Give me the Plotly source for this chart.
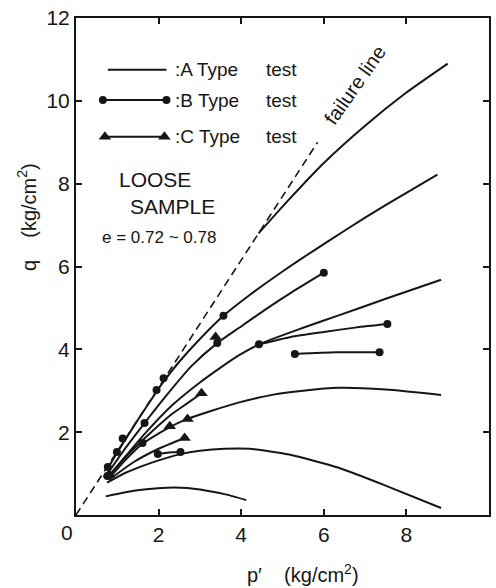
import plotly.graph_objects as go

# ---------------- data ----------------
FAIL_P = [0.0, 5.85]
FAIL_Q = [0.0, 9.0]

# A type tests (plain solid curves)
A1_P = [4.42, 5.16, 6.0, 7.0, 8.0, 9.0]
A1_Q = [6.8, 7.62, 8.5, 9.4, 10.2, 10.9]
A2_P = [0.78, 1.13, 1.5, 1.95, 2.12, 2.5, 3.0, 3.57, 4.19, 5.0, 6.12, 7.0, 8.0, 8.75]
A2_Q = [1.15, 1.72, 2.3, 2.98, 3.22, 3.7, 4.25, 4.81, 5.3, 5.88, 6.62, 7.18, 7.78, 8.22]
A3_P = [0.8, 1.2, 1.7, 2.34, 3.0, 3.5, 3.95, 4.43, 5.5, 6.36, 7.5, 8.84]
A3_Q = [0.95, 1.42, 2.0, 2.66, 3.2, 3.56, 3.86, 4.12, 4.52, 4.82, 5.22, 5.68]
A4_P = [0.8, 1.2, 1.61, 2.27, 2.7, 3.23, 3.95, 4.75, 5.5, 6.36, 7.5, 8.84]
A4_Q = [0.88, 1.33, 1.72, 2.12, 2.32, 2.5, 2.72, 2.9, 3.0, 3.07, 3.03, 2.9]
A5_P = [0.75, 1.2, 1.6, 2.0, 2.53, 3.0, 3.6, 4.2, 5.16, 6.36, 7.57, 8.84]
A5_Q = [0.78, 1.02, 1.18, 1.32, 1.47, 1.55, 1.6, 1.6, 1.46, 1.14, 0.68, 0.17]
A6_P = [0.72, 1.2, 1.7, 2.2, 2.7, 3.2, 3.7, 4.12]
A6_Q = [0.45, 0.55, 0.62, 0.66, 0.65, 0.58, 0.48, 0.36]

# B type tests (lines with dots)
BM_P = [0.78, 1.2, 1.66, 2.2, 2.8, 3.42, 3.95, 4.6, 5.23, 6.0]
BM_Q = [1.02, 1.62, 2.22, 2.9, 3.6, 4.15, 4.52, 4.97, 5.38, 5.85]
BS1_P = [4.43, 5.2, 6.0, 6.8, 7.54]
BS1_Q = [4.12, 4.3, 4.42, 4.53, 4.61]
BS2_P = [5.3, 6.3, 7.35]
BS2_Q = [3.89, 3.93, 3.93]
BS3_P = [1.98, 2.25, 2.53]
BS3_Q = [1.47, 1.51, 1.52]
DOT_P = [0.76, 0.77, 0.99, 1.13, 1.61, 1.66, 1.95, 2.12, 3.42, 3.57, 6.0]
DOT_Q = [0.94, 1.16, 1.52, 1.85, 1.74, 2.22, 3.02, 3.3, 4.15, 4.81, 5.85]

# C type tests (lines with triangles)
C1_P = [0.78, 1.3, 1.8, 2.3, 2.7, 3.04]
C1_Q = [0.92, 1.5, 1.98, 2.42, 2.7, 2.94]
C3_P = [0.8, 1.4, 2.0, 2.63]
C3_Q = [0.85, 1.28, 1.6, 1.86]
TRI_P = [3.04, 2.7, 2.63, 3.38, 2.27, 0.8]
TRI_Q = [2.94, 2.32, 1.86, 4.3, 2.14, 0.98]

X_TICKS = [2, 4, 6, 8, 10]
Y_TICKS = [2, 4, 6, 8, 10, 12]

# ---------------- styling ----------------
INK = "#161616"
TXT = "Liberation Sans, Arial, sans-serif"
NUM = "Liberation Sans Narrow, Liberation Sans, Arial, sans-serif"
LW = 2.0

fig = go.Figure()


def curve(p, q, width=LW, dash="solid"):
    fig.add_trace(go.Scatter(x=p, y=q, mode="lines",
                             line=dict(color=INK, width=width, dash=dash,
                                       shape="spline", smoothing=0.6),
                             hoverinfo="skip", showlegend=False))


def marks(p, q, symbol, size):
    fig.add_trace(go.Scatter(x=p, y=q, mode="markers",
                             marker=dict(symbol=symbol, size=size, color=INK,
                                         line=dict(width=0)),
                             hoverinfo="skip", showlegend=False))


curve(FAIL_P, FAIL_Q, width=1.6, dash="8px,5px")
for p, q in [(A1_P, A1_Q), (A2_P, A2_Q), (A3_P, A3_Q), (A4_P, A4_Q),
             (A5_P, A5_Q), (A6_P, A6_Q), (BM_P, BM_Q), (C1_P, C1_Q), (C3_P, C3_Q)]:
    curve(p, q)
for p, q in [(BS1_P, BS1_Q), (BS2_P, BS2_Q), (BS3_P, BS3_Q)]:
    curve(p, q)
    marks([p[0], p[-1]], [q[0], q[-1]], "circle", 8)
marks(DOT_P, DOT_Q, "circle", 8)
marks(TRI_P, TRI_Q, "triangle-up", 11)

# ---------------- legend drawn inside the plot ----------------
LEG_ROWS = [  # (label, q, p_start, p_end, symbol)
    (":A Type", 10.75, 0.77, 2.19, None),
    (":B Type", 10.02, 0.65, 2.19, "circle"),
    (":C Type", 9.13, 0.70, 2.14, "triangle-up"),
]
for label, yq, x0, x1, sym in LEG_ROWS:
    fig.add_trace(go.Scatter(x=[x0, x1], y=[yq, yq], mode="lines",
                             line=dict(color=INK, width=LW),
                             hoverinfo="skip", showlegend=False))
    if sym:
        marks([x0, x1], [yq, yq], sym, 8 if sym == "circle" else 11)
    fig.add_annotation(x=2.34, y=yq, text=label, showarrow=False,
                       xanchor="left", yanchor="middle",
                       font=dict(family=TXT, size=19, color=INK))
    fig.add_annotation(x=4.55, y=yq, text="test", showarrow=False,
                       xanchor="left", yanchor="middle",
                       font=dict(family=TXT, size=19, color=INK))

fig.add_annotation(x=0.99, y=8.09, text="LOOSE", showarrow=False,
                   xanchor="left", yanchor="middle",
                   font=dict(family=TXT, size=21, color=INK))
fig.add_annotation(x=1.25, y=7.44, text="SAMPLE", showarrow=False,
                   xanchor="left", yanchor="middle",
                   font=dict(family=TXT, size=21, color=INK))
fig.add_annotation(x=0.58, y=6.71, text="e = 0.72 ~ 0.78", showarrow=False,
                   xanchor="left", yanchor="middle",
                   font=dict(family=TXT, size=17, color=INK))
fig.add_annotation(x=6.75, y=10.39, text="failure line", showarrow=False,
                   textangle=-55, xanchor="center", yanchor="middle",
                   font=dict(family=TXT, size=20, color=INK))

# axis titles and origin label
fig.add_annotation(xref="paper", yref="paper", x=-0.118, y=0.60,
                   text="q&nbsp;&nbsp;&nbsp;&nbsp;(kg/cm<sup>2</sup>)", showarrow=False,
                   textangle=-90, xanchor="center", yanchor="middle",
                   font=dict(family=TXT, size=20, color=INK))
fig.add_annotation(xref="paper", yref="paper", x=0.55, y=-0.117,
                   text="p′&nbsp;&nbsp;&nbsp;&nbsp;(kg/cm<sup>2</sup>)", showarrow=False,
                   xanchor="center", yanchor="middle",
                   font=dict(family=TXT, size=20, color=INK))
fig.add_annotation(xref="paper", yref="paper", x=-0.022, y=-0.036,
                   text="0", showarrow=False, xanchor="center", yanchor="middle",
                   font=dict(family=NUM, size=21, color=INK))

axis_common = dict(showline=True, linewidth=2, linecolor=INK, mirror="ticks",
                   ticks="inside", ticklen=6, tickwidth=1.5, tickcolor=INK,
                   showgrid=False, zeroline=False,
                   tickfont=dict(family=NUM, size=21, color=INK))
fig.update_xaxes(range=[0, 10], tickvals=X_TICKS, **axis_common)
fig.update_yaxes(range=[0, 12], tickvals=Y_TICKS, **axis_common)

fig.update_layout(width=496, height=588,
                  margin=dict(l=76, r=5, t=18, b=73),
                  paper_bgcolor="white", plot_bgcolor="white")

fig.write_html("out.html")
